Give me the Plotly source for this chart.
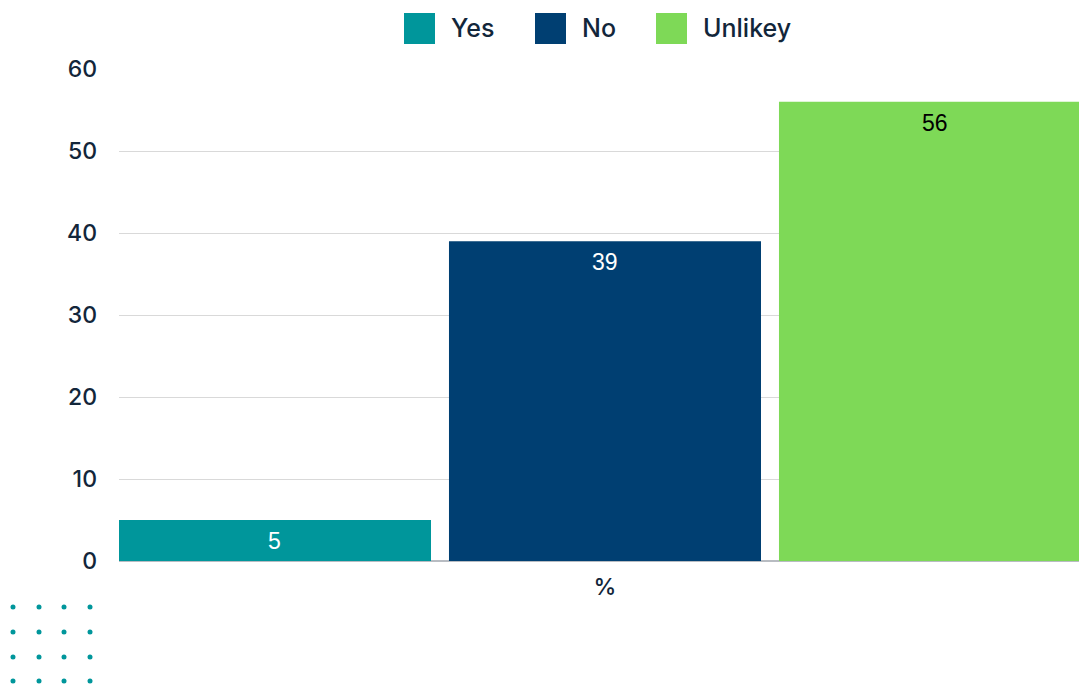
import plotly.graph_objects as go

categories = ["%"]
series_names = ["Yes", "No", "Unlikey"]
series_values = [[5], [39], [56]]
colors = ["#00969B", "#003F72", "#7ED957"]
text_colors = ["#FFFFFF", "#FFFFFF", "#000000"]
y_ticks = [0, 10, 20, 30, 40, 50, 60]

FONT = "Inter, Lato, sans-serif"
LABEL_FONT = "Liberation Sans, Arial, sans-serif"
DARK = "#12263A"

# plot area in page px
PL, PT, PW, PH = 119, 69, 960, 492


def px_x(x):
    return (x - PL) / PW


def px_y(y):
    return (PT + PH - y) / PH


fig = go.Figure()
annotations = []
n = len(series_names)
for i, (name, vals, col, tc) in enumerate(zip(series_names, series_values, colors, text_colors)):
    fig.add_trace(go.Bar(
        x=categories, y=vals, name=name,
        marker=dict(color=col, line=dict(width=0)),
        hoverinfo="skip", showlegend=False,
    ))
    # value label placed just below the bar top (grouped slot centre)
    for ci, v in enumerate(vals):
        annotations.append(dict(xref="x", yref="y", x=ci + (i - (n - 1) / 2) / n, y=v,
                                yshift=-21, xanchor="center", yanchor="middle",
                                text=str(v), showarrow=False,
                                font=dict(color=tc, size=23, family=LABEL_FONT)))

shapes = []

# custom legend with large square swatches
legend_sq_x = [404, 535, 656]
for name, col, sx in zip(series_names, colors, legend_sq_x):
    shapes.append(dict(type="rect", xref="paper", yref="paper",
                       x0=px_x(sx), x1=px_x(sx + 31),
                       y0=px_y(44), y1=px_y(13),
                       fillcolor=col, line=dict(width=0)))
    annotations.append(dict(xref="paper", yref="paper", x=px_x(sx + 45), y=px_y(28),
                            xanchor="left", yanchor="middle", text=name, showarrow=False,
                            font=dict(size=25, color=DARK, family=FONT, weight=500)))

# decorative dot grid
for cx in [13, 39, 64, 90]:
    for cy in [607, 632, 657, 681]:
        r = 2.5
        shapes.append(dict(type="circle", xref="paper", yref="paper",
                           x0=px_x(cx - r), x1=px_x(cx + r),
                           y0=px_y(cy + r), y1=px_y(cy - r),
                           fillcolor="#00969B", line=dict(width=0)))

fig.update_layout(
    width=1079, height=684,
    margin=dict(l=PL, r=1079 - PL - PW, t=PT, b=684 - PT - PH),
    paper_bgcolor="white", plot_bgcolor="white",
    barmode="group", bargap=0, bargroupgap=0.0545,
    font=dict(family=FONT, color=DARK, size=22),
    showlegend=False,
    xaxis=dict(range=[-0.4909, 0.4788], showgrid=False, showline=False, zeroline=False,
               tickfont=dict(size=23, color=DARK, weight=500), ticks="",
               ticklabelstandoff=10),
    yaxis=dict(range=[0, 60], tickvals=y_ticks, showgrid=True, gridcolor="#D9D9D9",
               gridwidth=1, zeroline=True, zerolinecolor="#B8BCC2", zerolinewidth=2,
               showline=False, ticks="", ticklabelstandoff=21,
               tickfont=dict(size=23, color=DARK, weight=500)),
    shapes=shapes,
    annotations=annotations,
)

post = (
    "document.body.style.margin='0';"
    "document.body.style.overflow='hidden';"
    "Plotly.relayout(document.getElementById('{plot_id}'), {width:1079, height:684});"
)
fig.write_html("out.html", post_script=post, config={"displayModeBar": False})
